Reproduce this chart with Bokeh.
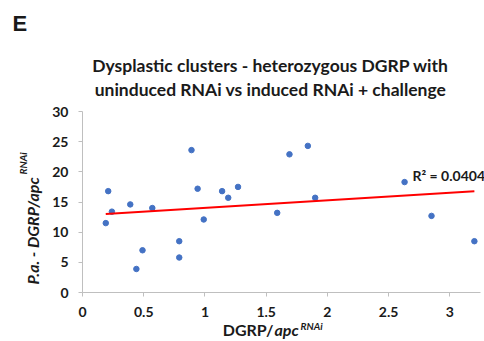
import numpy as np
from bokeh.plotting import figure
from bokeh.models import Range1d, Label, FixedTicker
from bokeh.embed import file_html
from bokeh.resources import INLINE

# ---- data ----
x_vals = [0.19, 0.21, 0.24, 0.39, 0.44, 0.49, 0.57, 0.79, 0.79, 0.89, 0.94,
          0.99, 1.14, 1.19, 1.27, 1.59, 1.69, 1.84, 1.90, 2.63, 2.85, 3.20]
y_vals = [11.5, 16.8, 13.4, 14.6, 3.9, 7.0, 14.0, 8.5, 5.8, 23.6, 17.2,
          12.1, 16.8, 15.7, 17.5, 13.2, 22.9, 24.3, 15.7, 18.3, 12.7, 8.5]
x_ticks = [0, 0.5, 1, 1.5, 2, 2.5, 3]
x_tick_labels = ["0", "0.5", "1", "1.5", "2", "2.5", "3"]
y_ticks = [0, 5, 10, 15, 20, 25, 30]
y_tick_labels = ["0", "5", "10", "15", "20", "25", "30"]
title_lines = ["Dysplastic clusters - heterozygous DGRP with",
               "uninduced RNAi vs induced RNAi + challenge"]
panel_letter = "E"
r2_text = "R\u00b2 = 0.0404"
y_label_main = "P.a. - DGRP/apc"
y_label_sup = "RNAi"
x_label_parts = ["DGRP/", "apc", "RNAi"]

# ---- layout: plot area in pixels, axis extents in data ----
W, H = 484, 341
FL, FR, FT, FB = 82, 480, 111, 292
X0, X1 = 0.0, 3.25
Y0, Y1 = 0.0, 30.0


def dx(px):
    return X0 + (px - FL) / (FR - FL) * (X1 - X0)


def dy(py):
    return Y0 + (FB - py) / (FB - FT) * (Y1 - Y0)


FONT = "Lato"
TXT = "#1a1a1a"
AX = "#bfbfbf"

p = figure(width=W, height=H, output_backend="svg", toolbar_location=None,
           x_range=Range1d(dx(0), dx(W)), y_range=Range1d(dy(H), dy(0)),
           min_border=0)
p.outline_line_color = None
p.xgrid.visible = False
p.ygrid.visible = False
p.background_fill_color = "white"
p.border_fill_color = "white"

for ax, ticks, labels, bounds in ((p.xaxis[0], x_ticks, x_tick_labels, (X0, X1)),
                                  (p.yaxis[0], y_ticks, y_tick_labels, (Y0, Y1))):
    ax.ticker = FixedTicker(ticks=ticks)
    ax.major_label_overrides = {t: l for t, l in zip(ticks, labels)}
    ax.fixed_location = 0
    ax.bounds = bounds
    ax.axis_line_color = AX
    ax.major_tick_line_color = AX
    ax.minor_tick_line_color = None
    ax.major_tick_in = 0
    ax.major_tick_out = 4
    ax.major_label_text_font = FONT
    ax.major_label_text_font_style = "bold"
    ax.major_label_text_font_size = "14px"
    ax.major_label_text_color = TXT
    ax.major_label_standoff = 10

# ---- marks ----
p.scatter(x_vals, y_vals, size=5.5, color="#4472C4", line_color="#4472C4")
slope, intercept = np.polyfit(np.array(x_vals), np.array(y_vals), 1)
xs_fit = np.array([min(x_vals), max(x_vals)])
p.line(xs_fit, slope * xs_fit + intercept, line_color="#FF0000", line_width=2)


def add_label(px, py, text, size, style="bold", align="left",
              baseline="alphabetic", angle=0.0, font=FONT):
    p.add_layout(Label(x=dx(px), y=dy(py), text=text, text_font=font,
                       text_font_size=f"{size}px", text_font_style=style,
                       text_color=TXT, text_align=align,
                       text_baseline=baseline, angle=angle))


# panel letter and title
add_label(12, 23, panel_letter, 22, font="Liberation Sans")
add_label(270, 65, title_lines[0], 17.5, align="center")
add_label(270, 89, title_lines[1], 17.5, align="center")

# R^2
add_label(412, 175, r2_text, 14)

# y label (rotated)
add_label(32, 284, y_label_main, 16, style="bold italic",
          angle=np.pi / 2)
add_label(22, 174, y_label_sup, 10, style="bold italic",
          angle=np.pi / 2)

# x label
add_label(273, 329, x_label_parts[0], 16, align="right")
add_label(274, 329, x_label_parts[1], 16, style="bold italic")
add_label(300, 325, x_label_parts[2], 10, style="bold italic")

open("out.html", "w").write(file_html(p, INLINE))
